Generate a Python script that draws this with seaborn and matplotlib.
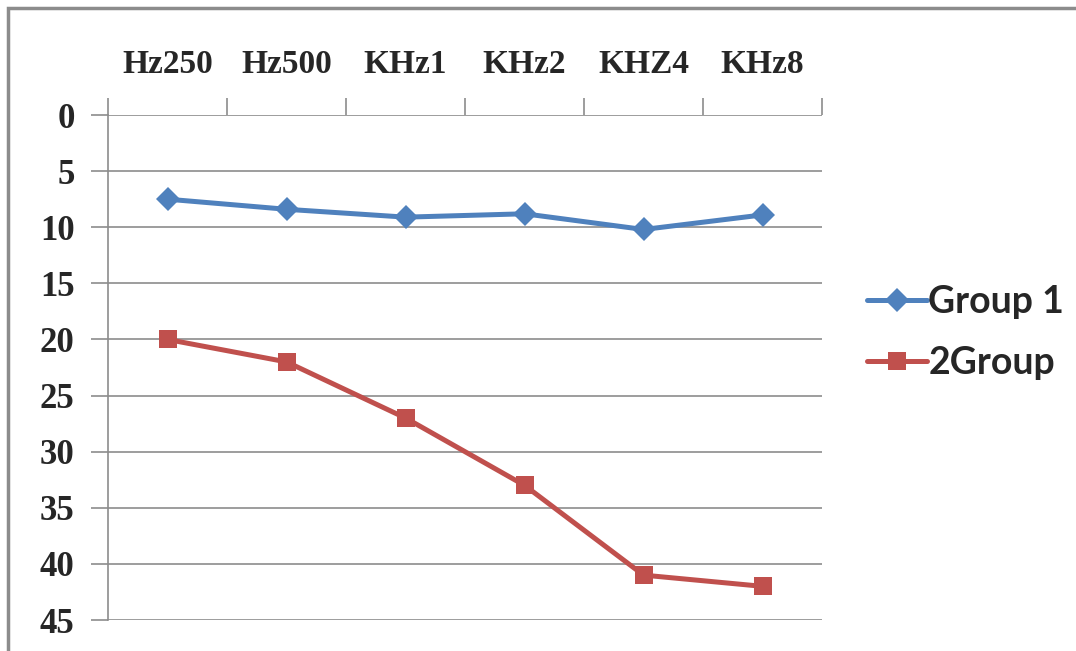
import pandas as pd
import seaborn as sns
import matplotlib.pyplot as plt
from matplotlib.patches import Rectangle
from matplotlib.ticker import FixedLocator

# Data
frequencies = ['Hz250', 'Hz500', 'KHz1', 'KHz2', 'KHZ4', 'KHz8']
group1 = [7.5, 8.4, 9.1, 8.8, 10.2, 8.9]
group2 = [20, 22, 27, 33, 41, 42]
y_ticks = [0, 5, 10, 15, 20, 25, 30, 35, 40, 45]

df = pd.DataFrame({
    'freq': frequencies * 2,
    'value': group1 + group2,
    'group': ['Group 1'] * len(group1) + ['2Group'] * len(group2),
})

sns.set_style('white')
fig = plt.figure(figsize=(10.76, 6.51), dpi=100)
ax = fig.add_axes([0.1004, 0.0476, 0.6636, 0.7757])

palette = {'Group 1': '#4F81BD', '2Group': '#C0504D'}
markers = {'Group 1': 'D', '2Group': 's'}
sns.lineplot(data=df, x='freq', y='value', hue='group', style='group',
             palette=palette, markers=markers, dashes=False,
             linewidth=3.6, markersize=12.5, markeredgewidth=0, ax=ax)

ax.set_ylim(45, 0)
ax.set_xlim(-0.5, len(frequencies) - 0.5)
ax.set_yticks(y_ticks)
ax.yaxis.grid(True, color='#8c8c8c', linewidth=1.2)
ax.xaxis.grid(False)

# category labels on top, tick marks at bin edges
ax.xaxis.tick_top()
ax.xaxis.set_minor_locator(FixedLocator([i - 0.5 for i in range(len(frequencies) + 1)]))
ax.tick_params(axis='x', which='major', length=0, pad=25)
ax.tick_params(axis='x', which='minor', length=12, width=1.2, color='#8c8c8c', top=True)
ax.tick_params(axis='y', length=12, width=1.2, color='#8c8c8c', left=True, pad=12)

for lab in ax.get_xticklabels():
    lab.set_fontfamily('Liberation Serif')
    lab.set_fontweight('bold')
    lab.set_fontsize(24)
for lab in ax.get_yticklabels():
    lab.set_fontfamily('Liberation Serif')
    lab.set_fontweight('bold')
    lab.set_fontsize(25)

for side in ['top', 'right', 'bottom']:
    ax.spines[side].set_visible(False)
ax.spines['left'].set_color('#8c8c8c')
ax.spines['left'].set_linewidth(1.2)
ax.set_xlabel('')
ax.set_ylabel('')

handles, labels = ax.get_legend_handles_labels()
ax.get_legend().remove()
fig.legend(handles, labels, loc='center left', bbox_to_anchor=(0.774, 0.489),
           frameon=False, prop={'family': 'Lato', 'weight': 'bold', 'size': 27},
           handlelength=1.6, handletextpad=0.05, labelspacing=0.72)

# outer chart border (cropped on right and bottom)
fig.patches.append(Rectangle((8 / 1076, -0.1), 1.2, 1.1 - 8 / 651, transform=fig.transFigure,
                             fill=False, edgecolor='#8c8c8c', linewidth=2.5))

plt.savefig('out.png', dpi=100)
